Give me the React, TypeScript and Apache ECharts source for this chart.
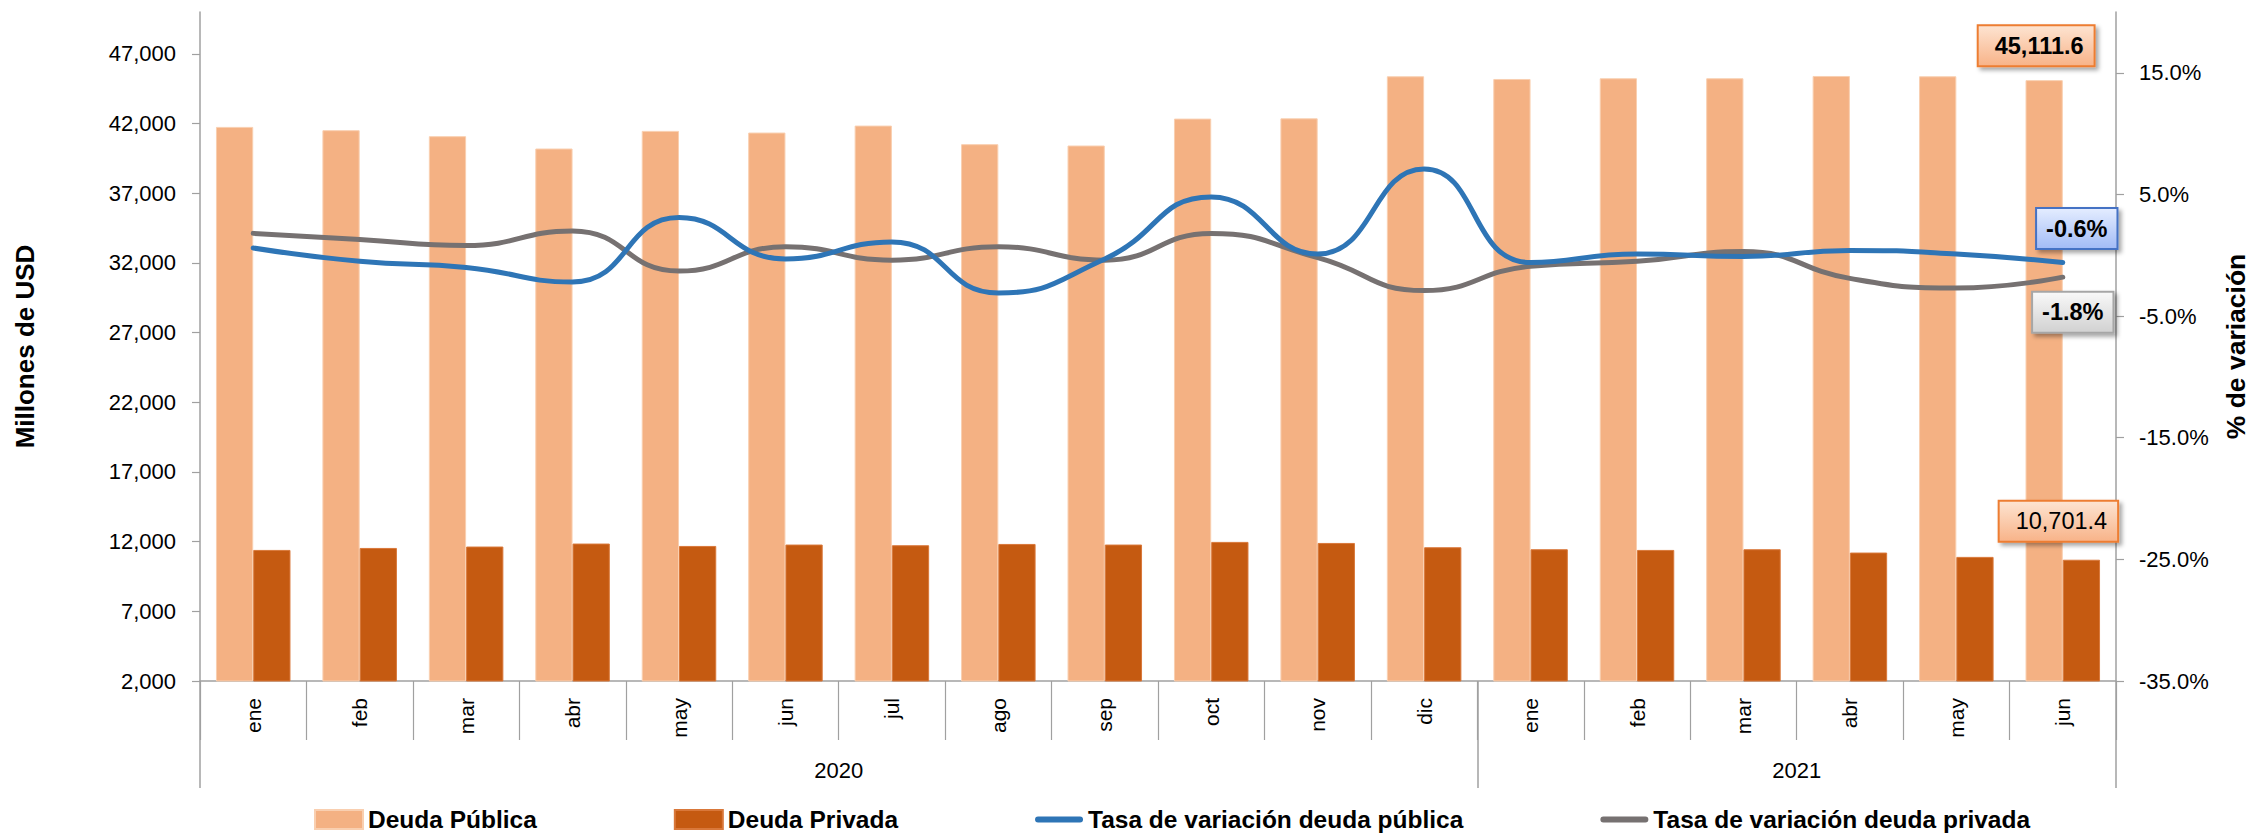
import React, { useEffect, useRef } from "react";
import * as echarts from "echarts";

const months = ["ene", "feb", "mar", "abr", "may", "jun", "jul", "ago", "sep", "oct", "nov", "dic", "ene", "feb", "mar", "abr", "may", "jun"];
const years = ["2020", "2021"];
const monthsPerYear = [12, 6];

const deudaPublica = [41756, 41520, 41090, 40205, 41470, 41350, 41850, 40517, 40420, 42352, 42370, 45388, 45195, 45245, 45245, 45410, 45388, 45111.6];
const deudaPrivada = [11404, 11547, 11647, 11862, 11690, 11790, 11740, 11834, 11790, 11980, 11905, 11597, 11454, 11404, 11454, 11216, 10905, 10701.4];
const tasaPublica = [0.6, -0.5, -1.0, -2.2, 3.1, -0.3, 1.1, -3.1, -0.3, 4.8, 0.1, 7.1, -0.6, 0.1, -0.1, 0.4, 0.1, -0.6];
const tasaPrivada = [1.8, 1.3, 0.8, 2.0, -1.3, 0.7, -0.4, 0.7, -0.4, 1.8, -0.2, -2.9, -0.9, -0.5, 0.3, -1.9, -2.7, -1.8];

const leftTicks = [2000, 7000, 12000, 17000, 22000, 27000, 32000, 37000, 42000, 47000];
const rightTicks = [-35, -25, -15, -5, 5, 15];

const FONT = "'Liberation Sans', Arial, sans-serif";
const AXIS_GRAY = "#A0A0A0";

const fmtMiles = (v: number, d = 0) =>
  v.toLocaleString("en-US", { minimumFractionDigits: d, maximumFractionDigits: d });

function grad(top: string, bottom: string) {
  return new echarts.graphic.LinearGradient(0, 0, 0, 1, [
    { offset: 0, color: top },
    { offset: 1, color: bottom },
  ]);
}

const boxShadow = {
  shadowBlur: 4,
  shadowOffsetX: 3,
  shadowOffsetY: 3,
  shadowColor: "rgba(0,0,0,0.35)",
};

export default function App() {
  const ref = useRef<HTMLDivElement>(null);

  useEffect(() => {
    if (!ref.current) return;
    const chart = echarts.init(ref.current, undefined, { renderer: "svg" });
    const last = months.length - 1;

    const bounds: number[] = [0];
    monthsPerYear.forEach((n) => bounds.push(bounds[bounds.length - 1] + n));
    const centers = monthsPerYear.map((n, i) => bounds[i] + n / 2);

    const labelBase = {
      show: true,
      fontSize: 23.5,
      lineHeight: 29,
      fontFamily: FONT,
      color: "#000",
      borderWidth: 2,
      ...boxShadow,
    };

    const pubData = deudaPublica.map((v, i) =>
      i === last
        ? {
            value: v,
            label: {
              ...labelBase,
              position: "top",
              distance: 15,
              offset: [-8, 0],
              formatter: () => fmtMiles(v, 1),
              fontWeight: "bold",
              backgroundColor: grad("#FDE3D0", "#F8B48A"),
              borderColor: "#ED7D31",
              padding: [5, 10, 5, 16],
            },
          }
        : v
    );
    const privData = deudaPrivada.map((v, i) =>
      i === last
        ? {
            value: v,
            label: {
              ...labelBase,
              position: "top",
              distance: 19,
              offset: [-23, 0],
              formatter: () => fmtMiles(v, 1),
              backgroundColor: grad("#FDE3D0", "#F8B48A"),
              borderColor: "#ED7D31",
              padding: [5, 10, 5, 16],
            },
          }
        : v
    );
    const tpData = tasaPublica.map((v, i) =>
      i === last
        ? {
            value: v,
            label: {
              ...labelBase,
              position: "top",
              distance: 14,
              offset: [14, 0],
              formatter: () => v.toFixed(1) + "%",
              fontWeight: "bold",
              backgroundColor: grad("#E3ECFF", "#A3BCF6"),
              borderColor: "#4472C4",
              padding: [5, 9, 5, 9],
            },
          }
        : v
    );
    const tvData = tasaPrivada.map((v, i) =>
      i === last
        ? {
            value: v,
            label: {
              ...labelBase,
              position: "bottom",
              distance: 15,
              offset: [10, 0],
              formatter: () => v.toFixed(1) + "%",
              fontWeight: "bold",
              backgroundColor: grad("#F8F8F8", "#D2D2D2"),
              borderColor: "#A6A6A6",
              padding: [5, 9, 5, 9],
            },
          }
        : v
    );

    const lineIcon = "path://M3,0L45,0A3,3,0,0,1,45,6L3,6A3,3,0,0,1,3,0Z";

    chart.setOption({
      animation: false,
      textStyle: { fontFamily: FONT },
      grid: { left: 200, right: 136, top: 12, bottom: 152, containLabel: false },
      legend: {
        left: 309,
        top: 802,
        itemWidth: 48,
        itemHeight: 19,
        itemGap: 137,
        textStyle: { fontSize: 24.5, fontWeight: "bold", fontFamily: FONT, color: "#000" },
        data: [
          { name: "Deuda Pública", icon: "rect" },
          { name: "Deuda Privada", icon: "rect" },
          { name: "Tasa de variación deuda pública", icon: lineIcon },
          { name: "Tasa de variación deuda privada", icon: lineIcon },
        ],
      },
      xAxis: [
        {
          type: "category",
          data: months,
          boundaryGap: true,
          axisLine: { show: true, onZero: false, lineStyle: { color: AXIS_GRAY, width: 1.5 } },
          axisTick: { show: true, interval: 0, alignWithLabel: false, length: 59, lineStyle: { color: AXIS_GRAY, width: 1.2 } },
          axisLabel: { interval: 0, rotate: 90, margin: 17, fontSize: 21, color: "#000", fontFamily: FONT },
          splitLine: { show: false },
        },
        {
          type: "value",
          position: "bottom",
          min: 0,
          max: bounds[bounds.length - 1],
          axisLine: { show: false, onZero: false },
          splitLine: { show: false },
          axisTick: {
            show: true,
            length: 107,
            customValues: bounds,
            lineStyle: { color: AXIS_GRAY, width: 1.5 },
          },
          axisLabel: {
            show: true,
            customValues: centers,
            formatter: (v: number) => years[centers.indexOf(v)] ?? "",
            margin: 78,
            fontSize: 22,
            color: "#000",
            fontFamily: FONT,
          },
        },
      ],
      yAxis: [
        {
          type: "value",
          min: 2000,
          max: 50000,
          name: "Millones de USD",
          nameLocation: "middle",
          nameGap: 162,
          nameRotate: 90,
          nameTextStyle: { fontSize: 26, fontWeight: "bold", color: "#000", fontFamily: FONT },
          axisLine: { show: true, lineStyle: { color: AXIS_GRAY, width: 1.5 } },
          axisTick: { show: true, length: 8, customValues: leftTicks, lineStyle: { color: AXIS_GRAY, width: 1.2 } },
          axisLabel: {
            customValues: leftTicks,
            formatter: (v: number) => fmtMiles(v),
            margin: 24,
            fontSize: 22,
            color: "#000",
            fontFamily: FONT,
          },
          splitLine: { show: false },
        },
        {
          type: "value",
          min: -35,
          max: 20,
          name: "% de variación",
          nameLocation: "middle",
          nameGap: 106,
          nameRotate: 90,
          nameTextStyle: { fontSize: 26.5, fontWeight: "bold", color: "#000", fontFamily: FONT },
          axisLine: { show: true, lineStyle: { color: AXIS_GRAY, width: 1.5 } },
          axisTick: { show: true, length: 8, customValues: rightTicks, lineStyle: { color: AXIS_GRAY, width: 1.2 } },
          axisLabel: {
            customValues: rightTicks,
            formatter: (v: number) => v.toFixed(1) + "%",
            margin: 23,
            fontSize: 22,
            color: "#000",
            fontFamily: FONT,
          },
          splitLine: { show: false },
        },
      ],
      series: [
        {
          name: "Deuda Pública",
          type: "bar",
          xAxisIndex: 0,
          yAxisIndex: 0,
          data: pubData,
          barGap: "0%",
          barCategoryGap: "30%",
          itemStyle: { color: "#F4B183", borderColor: "#F9CFB0", borderWidth: 1 },
          emphasis: { disabled: true },
        },
        {
          name: "Deuda Privada",
          type: "bar",
          xAxisIndex: 0,
          yAxisIndex: 0,
          data: privData,
          barGap: "0%",
          barCategoryGap: "30%",
          itemStyle: { color: "#C55A11", borderColor: "#D9783A", borderWidth: 1 },
          emphasis: { disabled: true },
        },
        {
          name: "Tasa de variación deuda pública",
          type: "line",
          xAxisIndex: 0,
          yAxisIndex: 1,
          data: tpData,
          smooth: 0.5,
          symbol: "circle",
          symbolSize: 1,
          showSymbol: true,
          itemStyle: { color: "#2E75B6" },
          lineStyle: { color: "#2E75B6", width: 5, cap: "round", join: "round" },
          z: 5,
          emphasis: { disabled: true },
        },
        {
          name: "Tasa de variación deuda privada",
          type: "line",
          xAxisIndex: 0,
          yAxisIndex: 1,
          data: tvData,
          smooth: 0.5,
          symbol: "circle",
          symbolSize: 1,
          showSymbol: true,
          itemStyle: { color: "#767171" },
          lineStyle: { color: "#767171", width: 5, cap: "round", join: "round" },
          z: 4,
          emphasis: { disabled: true },
        },
      ],
    });

    return () => chart.dispose();
  }, []);

  return (
    <div
      ref={ref}
      style={{ position: "fixed", left: 0, top: 0, width: 2257, height: 833, background: "#fff" }}
    />
  );
}
